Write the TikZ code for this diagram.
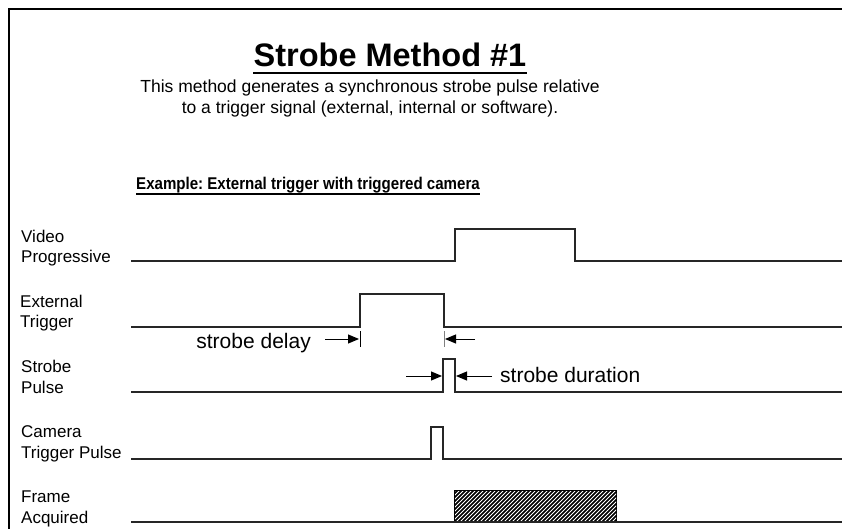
\documentclass[tikz,border=0pt]{standalone}
\usepackage{fontspec}
\setmainfont{Liberation Sans}
\newfontfamily\narrowsans[FakeStretch=0.887]{Liberation Sans}
\usetikzlibrary{arrows.meta}
\frenchspacing
\begin{document}
\begin{tikzpicture}[x=1pt,y=-1pt,
  wave/.style={line width=1.3pt, black!85},
  lbl/.style={anchor=base west, inner sep=0, font=\fontsize{17}{20}\selectfont},
  ann/.style={line width=1pt, -{Triangle[length=11pt,width=9pt]}},
  note/.style={inner sep=0, font=\fontsize{21}{25}\selectfont}]
\useasboundingbox (0,0) rectangle (842,529);
% frame
\draw[line width=2.2pt] (9,529) -- (9,9) -- (842,9);
% title
\node[inner sep=0, anchor=base, font=\fontsize{32.5}{38}\selectfont\bfseries] (title) at (390,67) {Strobe Method \#1};
\draw[line width=1.8pt] ([yshift=-6pt]title.base west) -- ([yshift=-6pt]title.base east);
\node[inner sep=0, anchor=base, font=\fontsize{17.5}{21}\selectfont] (sub1) at (370,93) {This method generates a synchronous strobe pulse relative};
\node[inner sep=0, anchor=base, font=\fontsize{17.5}{21}\selectfont] (sub2) at (370,114) {to a trigger signal (external, internal or software).};
\node[inner sep=0, anchor=base west, font=\narrowsans\fontsize{17}{20}\selectfont\bfseries] (ex) at (136,190) {Example: External trigger with triggered camera};
\draw[line width=1.3pt] ([yshift=-4pt]ex.base west) -- ([yshift=-4pt]ex.base east);
% labels
\node[lbl] (l1a) at (21,242) {Video};
\node[lbl] (l1b) at (21,262) {Progressive};
\node[lbl] (l2a) at (20,307) {External};
\node[lbl] (l2b) at (20,327) {Trigger};
\node[lbl] (l3a) at (21,372) {Strobe};
\node[lbl] (l3b) at (21,393) {Pulse};
\node[lbl] (l4a) at (21,437) {Camera};
\node[lbl] (l4b) at (21,458) {Trigger Pulse};
\node[lbl] (l5a) at (21,502) {Frame};
\node[lbl] (l5b) at (21,523) {Acquired};
% waveforms
\draw[wave] (131,261) -- (455,261) -- (455,229) -- (575,229) -- (575,261) -- (842,261);
\draw[wave] (131,327) -- (360,327) -- (360,294) -- (444,294) -- (444,327) -- (842,327);
\draw[wave] (131,392) -- (443,392) -- (443,359) -- (455,359) -- (455,392) -- (842,392);
\draw[wave] (131,459) -- (431,459) -- (431,427) -- (443,427) -- (443,459) -- (842,459);
% frame acquired hatch
\fill[black] (454,490) rectangle (617,522);
\begin{scope}
  \clip (455,491) rectangle (616,521);
  \foreach \i in {-36,-32,...,620} {
    \draw[white, line width=0.8pt] (\i,522) -- (\i+32,490);
  }
\end{scope}
\draw[wave] (131,522) -- (842,522);
% strobe delay
\draw[line width=1pt] (360,331) -- (360,347);
\draw[line width=1pt, gray] (444,331) -- (444,347);
\node[note, anchor=base east] (sdl) at (311,348) {strobe delay};
\coordinate (sdA) at (325,339);
\coordinate (sdB) at (359,339);
\coordinate (sdC) at (475,339);
\coordinate (sdD) at (445,339);
\draw[ann] (sdA) -- (sdB);
\draw[ann] (sdC) -- (sdD);
% strobe duration
\node[note, anchor=base west] (sdur) at (500,382) {strobe duration};
\coordinate (duA) at (406,376);
\coordinate (duB) at (442,376);
\coordinate (duC) at (492,376);
\coordinate (duD) at (456,376);
\draw[ann] (duA) -- (duB);
\draw[ann] (duC) -- (duD);
\end{tikzpicture}
\end{document}
